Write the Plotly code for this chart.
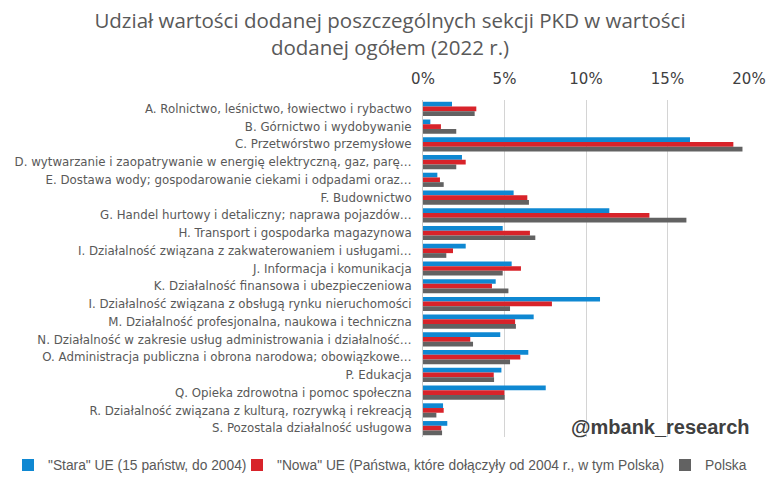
import plotly.graph_objects as go

categories = [
    "A. Rolnictwo, leśnictwo, łowiectwo i rybactwo",
    "B. Górnictwo i wydobywanie",
    "C. Przetwórstwo przemysłowe",
    "D. wytwarzanie i zaopatrywanie w energię elektryczną, gaz, parę…",
    "E. Dostawa wody; gospodarowanie ciekami i odpadami oraz…",
    "F. Budownictwo",
    "G. Handel hurtowy i detaliczny; naprawa pojazdów…",
    "H. Transport i gospodarka magazynowa",
    "I. Działalność związana z zakwaterowaniem i usługami…",
    "J. Informacja i komunikacja",
    "K. Działalność finansowa i ubezpieczeniowa",
    "I. Działalność związana z obsługą rynku nieruchomości",
    "M. Działalność profesjonalna, naukowa i techniczna",
    "N. Działalność w zakresie usług administrowania i działalność…",
    "O. Administracja publiczna i obrona narodowa; obowiązkowe…",
    "P. Edukacja",
    "Q. Opieka zdrowotna i pomoc społeczna",
    "R. Działalność związana z kulturą, rozrywką i rekreacją",
    "S. Pozostala działalność usługowa",
]

stara_ue = [1.78, 0.45, 16.38, 2.39, 0.88, 5.56, 11.43, 4.89, 2.62, 5.44, 4.46, 10.86, 6.79, 4.74, 6.46, 4.81, 7.53, 1.23, 1.49]
nowa_ue = [3.27, 1.10, 19.04, 2.62, 1.04, 6.40, 13.89, 6.56, 1.84, 6.01, 4.23, 7.91, 5.65, 2.90, 5.97, 4.34, 4.99, 1.27, 1.12]
polska = [3.17, 2.04, 19.60, 2.04, 1.27, 6.50, 16.16, 6.89, 1.43, 4.89, 5.24, 5.34, 5.70, 3.07, 5.34, 4.36, 5.01, 0.82, 1.17]

series_names = [
    '"Stara" UE (15 państw, do 2004)',
    '"Nowa" UE (Państwa, które dołączyły od 2004 r., w tym Polska)',
    "Polska",
]
colors = ["#0f88d2", "#d8232a", "#626262"]
tick_vals = [0, 5, 10, 15, 20]
tick_text = ["0%", "5%", "10%", "15%", "20%"]

fig = go.Figure()
legends = ["legend", "legend2", "legend3"]
for name, vals, col, lg in zip(series_names, [stara_ue, nowa_ue, polska], colors, legends):
    fig.add_trace(go.Bar(
        y=categories, x=vals, name=name, orientation="h",
        marker=dict(color=col, line=dict(width=0)), legend=lg,
    ))

# the page adds an 8px body margin, so the figure is drawn 8px smaller
W, H = 776, 483
ML, MR, MT, MB = 415, 35, 92, 54
plot_w = W - ML - MR
plot_h = H - MT - MB

legend_font = dict(family="Liberation Sans, Arial", size=13.8, color="#595959")
def leg(px_x):
    return dict(orientation="h", xref="container", yref="container",
                x=px_x / W, y=1 - 457 / H, xanchor="left", yanchor="middle",
                font=legend_font, bgcolor="rgba(0,0,0,0)", itemwidth=30,
                borderwidth=0)

fig.update_layout(
    width=W, height=H,
    paper_bgcolor="white", plot_bgcolor="white",
    margin=dict(l=ML, r=MR, t=MT, b=MB),
    barmode="group", bargap=0.2, bargroupgap=0,
    title=dict(
        text="Udział wartości dodanej poszczególnych sekcji PKD w wartości<br>dodanej ogółem (2022 r.)",
        x=382 / W, xref="container", xanchor="center",
        y=1 - 20 / H, yref="container", yanchor="top",
        font=dict(family="Open Sans, Noto Sans", size=20.5, color="#595959"),
    ),
    xaxis=dict(
        side="top", range=[0, 20], tickvals=tick_vals, ticktext=tick_text,
        showgrid=True, gridcolor="#d4d4d4", gridwidth=1,
        zeroline=False, showline=False,
        tickfont=dict(family="DejaVu Sans, Verdana", size=15, color="#404040"),
        ticks="outside", ticklen=9, tickcolor="rgba(0,0,0,0)", fixedrange=True,
    ),
    yaxis=dict(
        autorange="reversed", showline=True, linecolor="#c8c8c8", linewidth=1,
        showgrid=False, ticks="outside", ticklen=8, tickcolor="rgba(0,0,0,0)",
        tickfont=dict(family="DejaVu Sans, Verdana", size=11.8, color="#595959"),
        automargin=False,
    ),
    legend=leg(0),
    legend2=leg(229),
    legend3=leg(657),
    showlegend=True,
    annotations=[dict(
        text="<b>@mbank_research</b>", x=(744 - ML) / plot_w, y=1 - (419 - MT) / plot_h,
        xref="paper", yref="paper",
        xanchor="right", yanchor="middle", showarrow=False,
        font=dict(family="Liberation Sans, Arial", size=20, color="#404040"),
    )],
)

fig.write_html("out.html")
